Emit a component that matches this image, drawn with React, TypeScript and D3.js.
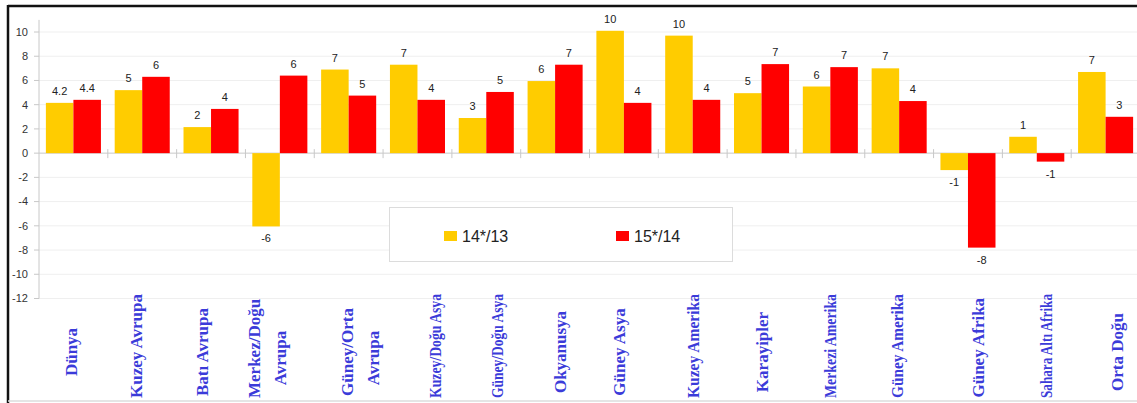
import React from "react";
import * as d3 from "d3";

const categories = [
  "Dünya", "Kuzey Avrupa", "Batı Avrupa", "Merkez/Doğu\nAvrupa", "Güney/Orta\nAvrupa",
  "Kuzey/Doğu Asya", "Güney/Doğu Asya", "Okyanusya", "Güney Asya", "Kuzey Amerika",
  "Karayipler", "Merkezi Amerika", "Güney Amerika", "Güney Afrika", "Sahara Altı Afrika", "Orta Doğu",
];
const seriesNames = ["14*/13", "15*/14"];
const values1413 = [4.15, 5.2, 2.15, -6.05, 6.9, 7.3, 2.9, 5.95, 10.1, 9.7, 4.95, 5.5, 7.0, -1.4, 1.35, 6.7];
const values1514 = [4.4, 6.3, 3.65, 6.4, 4.75, 4.4, 5.05, 7.3, 4.15, 4.4, 7.35, 7.1, 4.3, -7.8, -0.7, 3.0];
const labels1413 = ["4.2", "5", "2", "-6", "7", "7", "3", "6", "10", "10", "5", "6", "7", "-1", "1", "7"];
const labels1514 = ["4.4", "6", "4", "6", "5", "4", "5", "7", "4", "4", "7", "7", "4", "-8", "-1", "3"];
const yTicks = [10, 8, 6, 4, 2, 0, -2, -4, -6, -8, -10, -12];

// layout constants (not data)
const labelDx = [-2, -6, -9, -13, 11, 18, 11, 5, -5, 0, 1, 0, -2, 10, 9, 11];
const colors = ["#FFCC00", "#FF0000"];

const W = 1137;
const H = 403;
const left = 39;
const right = 1140;
const LABEL_FONT = "bold 17px 'Liberation Serif', 'Times New Roman', serif";
const MAX_LEN = 104;

let ctx: CanvasRenderingContext2D | null = null;
function measure(t: string): number {
  if (!ctx && typeof document !== "undefined") {
    ctx = document.createElement("canvas").getContext("2d");
  }
  if (!ctx) return t.length * 8;
  ctx.font = LABEL_FONT;
  return ctx.measureText(t).width;
}

export default function App() {
  const y = d3.scaleLinear().domain([-12, 10]).range([298.5, 32]);
  const x = d3.scaleBand<number>().domain(d3.range(categories.length)).range([left, right]).paddingInner(0).paddingOuter(0);
  const xs = d3.scaleBand<number>().domain([0, 1]).range([0, x.bandwidth()]).paddingInner(0).paddingOuter(0.25);
  const series = [values1413, values1514];
  const labels = [labels1413, labels1514];
  const y0 = y(0);

  return (
    <div style={{ position: "absolute", left: 0, top: 0 }}>
      <svg width={W} height={H} style={{ display: "block", background: "#fff" }}>
        {/* frame */}
        <rect x={0} y={0} width={W} height={H} fill="#fff" />
        <line x1={8} x2={W} y1={6} y2={6} stroke="#111" strokeWidth={2.5} />
        <line x1={8} x2={8} y1={5} y2={H} stroke="#111" strokeWidth={2.5} />
        <line x1={8} x2={W} y1={401} y2={401} stroke="#ddd" strokeWidth={1.5} />

        {/* gridlines */}
        {yTicks.map((t) => (
          <line key={"g" + t} x1={left} x2={W} y1={y(t)} y2={y(t)} stroke={t === 0 ? "#c8c8c8" : "#efefef"} strokeWidth={1} />
        ))}
        {/* y axis */}
        <line x1={left} x2={left} y1={y(11)} y2={y(-12)} stroke="#c8c8c8" />
        {yTicks.map((t) => (
          <g key={"t" + t}>
            <line x1={left - 5} x2={left} y1={y(t)} y2={y(t)} stroke="#c8c8c8" />
            <text x={28} y={y(t)} dy="0.35em" textAnchor="end" fontFamily="Liberation Sans, Arial, sans-serif" fontSize={11} fill="#333">
              {t}
            </text>
          </g>
        ))}

        {/* bars */}
        {categories.map((c, i) => (
          <g key={"b" + i} transform={`translate(${x(i)},0)`}>
            {series.map((s, k) => {
              const v = s[i];
              const top = Math.min(y(v), y0);
              const h = Math.abs(y(v) - y0);
              const bx = xs(k)!;
              const bw = xs.bandwidth();
              return (
                <g key={k}>
                  <rect x={bx} y={top} width={bw} height={h} fill={colors[k]} />
                  <text
                    x={bx + bw / 2}
                    y={v >= 0 ? y(v) - 8 : y(v) + 16}
                    textAnchor="middle"
                    fontFamily="Liberation Sans, Arial, sans-serif"
                    fontSize={11}
                    fill="#222"
                  >
                    {labels[k][i]}
                  </text>
                </g>
              );
            })}
          </g>
        ))}

        {/* x ticks on zero line */}
        {d3.range(1, categories.length).map((i) => (
          <line key={"xt" + i} x1={x(i)!} x2={x(i)!} y1={y0 - 4} y2={y0 + 5} stroke="#c8c8c8" />
        ))}

        {/* legend */}
        <rect x={389.5} y={207.5} width={343} height={54} fill="#fff" stroke="#dcdcdc" />
        {seriesNames.map((n, k) => {
          const lx = k === 0 ? 444 : 616;
          return (
            <g key={"l" + k}>
              <rect x={lx} y={231} width={13} height={10} fill={colors[k]} />
              <text x={lx + 18} y={242} fontFamily="Liberation Sans, Arial, sans-serif" fontSize={16} fill="#222">
                {n}
              </text>
            </g>
          );
        })}

        {/* category labels */}
        <g>
          {categories.map((c, i) => {
            const lines = c.split("\n");
            const cx = x(i)! + x.bandwidth() / 2 + labelDx[i];
            const n = lines.length;
            return lines.map((ln, j) => {
              const lx = cx + (j - (n - 1) / 2) * 26;
              const w0 = measure(ln);
              const w = Math.min(w0, MAX_LEN);
              let cy = j === 0 ? 352 : 358;
              cy = Math.min(cy, 398 - w / 2);
              cy = Math.max(cy, 293 + w / 2);
              const extra = w0 > MAX_LEN ? { textLength: MAX_LEN, lengthAdjust: "spacingAndGlyphs" } : {};
              return (
                <text
                  key={"c" + i + "_" + j}
                  transform={`translate(${lx},${cy}) rotate(-90)`}
                  textAnchor="middle"
                  dy="0.35em"
                  fontFamily="Liberation Serif, Times New Roman, serif"
                  fontWeight="bold"
                  fontSize={17}
                  fill="#3b3bd9"
                  {...extra}
                >
                  {ln}
                </text>
              );
            });
          })}
        </g>
      </svg>
    </div>
  );
}
